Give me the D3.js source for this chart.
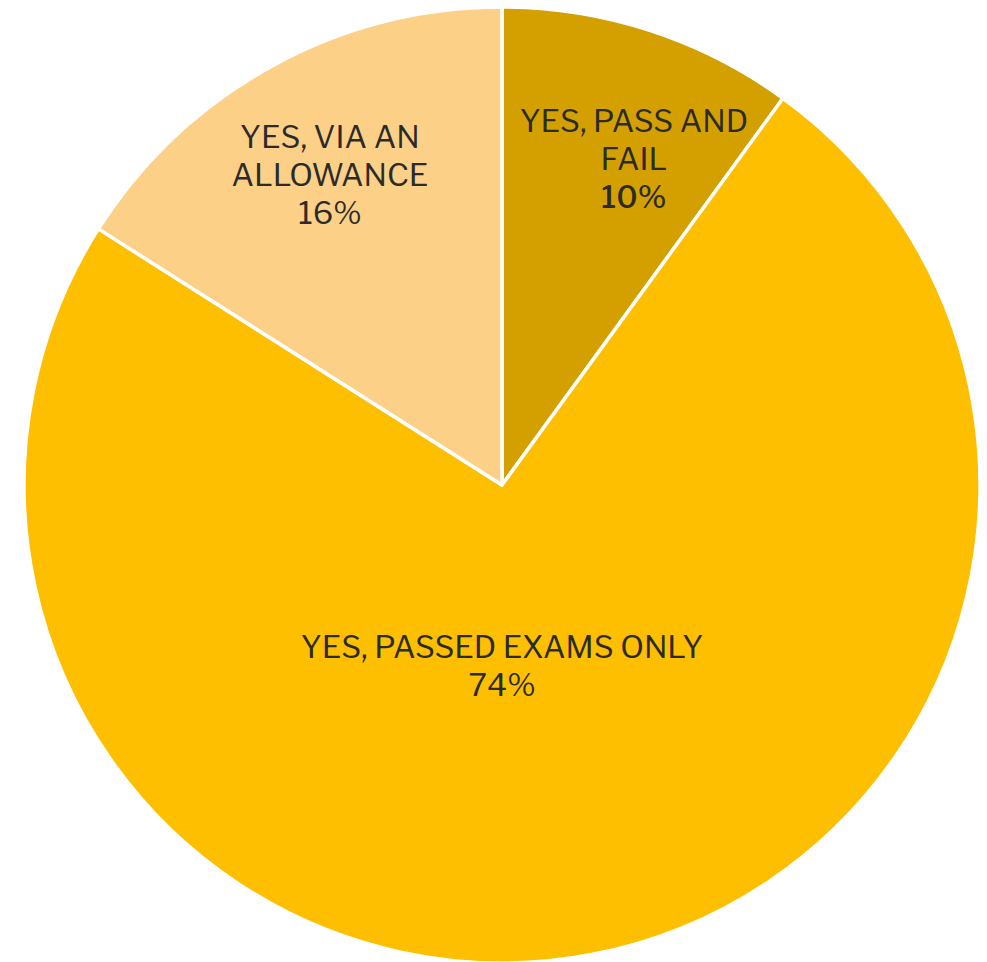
<!DOCTYPE html>
<html>
<head>
<meta charset="utf-8">
<script src="https://cdn.jsdelivr.net/npm/d3@7"></script>
<style>
  html, body { margin: 0; padding: 0; background: #ffffff; }
  svg { display: block; }
  text { font-family: "Libre Franklin", Roboto, "Noto Sans", sans-serif; fill: #2b2b2b; }
</style>
</head>
<body>
<svg id="chart" width="987" height="962"></svg>
<script>
// Answers, in clockwise order starting at twelve o'clock
const categories = ["YES, PASS AND FAIL", "YES, PASSED EXAMS ONLY", "YES, VIA AN ALLOWANCE"];
const values = [10, 74, 16];
const labelLines = [["YES, PASS AND", "FAIL"], ["YES, PASSED EXAMS ONLY"], ["YES, VIA AN", "ALLOWANCE"]];
const colors = ["#d4a000", "#fdbf00", "#fdd087"];

// Label placement: polar position (degrees from top, clockwise; distance from centre)
const labelPolar = [[22, 352], [180, 181], [-29, 355]];
const boldValue = [true, false, false];

const width = 987, height = 962;
const cx = 502, cy = 485, radius = 478;
const fontSize = 31, lineHeight = 38, capHalf = 11;

const svg = d3.select("#chart");
const g = svg.append("g").attr("transform", `translate(${cx},${cy})`);

const data = categories.map((c, i) => ({ category: c, value: values[i], i }));

const pie = d3.pie().value(d => d.value).sort(null);
const arc = d3.arc().innerRadius(0).outerRadius(radius);
const color = d3.scaleOrdinal().domain(categories).range(colors);

const arcs = pie(data);

g.selectAll("path.slice")
  .data(arcs)
  .join("path")
  .attr("class", "slice")
  .attr("d", arc)
  .attr("fill", d => color(d.data.category))
  .attr("stroke", "#ffffff")
  .attr("stroke-width", 3.5)
  .attr("stroke-linejoin", "round");

const fmt = v => d3.format(".0f")(v) + "%";

const labels = g.selectAll("g.label")
  .data(arcs)
  .join("g")
  .attr("class", "label")
  .attr("transform", d => {
    const [deg, r] = labelPolar[d.data.i];
    const a = deg * Math.PI / 180;
    return `translate(${r * Math.sin(a)},${-r * Math.cos(a)})`;
  });

labels.each(function(d) {
  const lines = labelLines[d.data.i].map(t => ({ t, bold: false }));
  lines.push({ t: fmt(d.data.value), bold: boldValue[d.data.i] });
  const n = lines.length;
  const top = -((n - 1) / 2) * lineHeight + capHalf;
  d3.select(this).selectAll("text")
    .data(lines)
    .join("text")
    .attr("text-anchor", "middle")
    .attr("x", 0)
    .attr("y", (l, k) => top + k * lineHeight)
    .attr("font-size", fontSize)
    .attr("font-weight", l => l.bold ? 500 : 400)
    .text(l => l.t);
});
</script>
</body>
</html>
